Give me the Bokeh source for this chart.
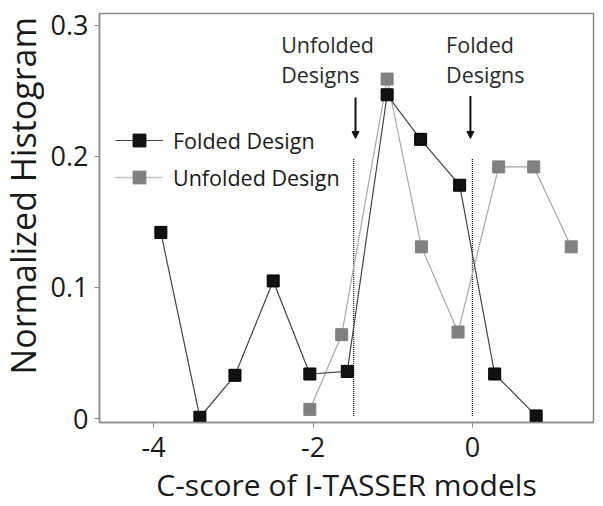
import math
from bokeh.plotting import figure
from bokeh.layouts import row
from bokeh.models import Range1d, FixedTicker, Legend, LegendItem, Arrow, NormalHead
from bokeh.core.properties import value
from bokeh.embed import file_html
from bokeh.resources import INLINE

FONT = "Open Sans"

# ---- data ----
folded_x = [-3.91, -3.42, -2.98, -2.50, -2.04, -1.57, -1.07, -0.65, -0.16, 0.28, 0.80]
folded_y = [0.142, 0.001, 0.033, 0.105, 0.034, 0.036, 0.247, 0.213, 0.178, 0.034, 0.002]

unfolded_x = [-2.04, -1.64, -1.07, -0.64, -0.18, 0.33, 0.77, 1.24]
unfolded_y = [0.007, 0.064, 0.259, 0.131, 0.066, 0.192, 0.192, 0.131]

x_ticks = [-4, -2, 0]
y_ticks = [0, 0.1, 0.2, 0.3]
x_tick_labels = ["-4", "-2", "0"]
y_tick_labels = ["0", "0.1", "0.2", "0.3"]

x_title = "C-score of I-TASSER models"
y_title = ["Normalized Histogram"]

# thresholds (dotted vertical lines)
threshold_x = [-1.49, 0.0]
threshold_y0 = [0.002, 0.002]
threshold_y1 = [0.198, 0.198]

# annotation texts
note_x = [-2.40, -2.40, -0.33, -0.33]
note_y = [0.2855, 0.2626, 0.2855, 0.2626]
note_text = ["Unfolded", "Designs", "Folded", "Designs"]

# arrows
arrow_x = [-1.467, -0.025]
arrow_y_start = [0.245, 0.246]
arrow_y_end = [0.2137, 0.2137]

# ---- narrow panel holding the y-axis title ----
yt = figure(width=44, height=506, output_backend="svg", toolbar_location=None,
            x_range=Range1d(0, 44), y_range=Range1d(0, 506),
            x_axis_location=None, y_axis_location=None, min_border=0)
yt.grid.visible = False
yt.outline_line_color = None
yt.background_fill_color = "white"
yt.border_fill_color = "white"
yt.text(x=[22], y=[280], text=y_title, angle=math.pi / 2, text_align="center",
        text_baseline="middle", text_font=value(FONT), text_font_size="34px",
        text_color="#1a1a1a")

# ---- main plot ----
p = figure(frame_width=494, frame_height=409, output_backend="svg", toolbar_location=None,
           x_range=Range1d(-4.68, 1.52), y_range=Range1d(-0.003, 0.309),
           min_border_left=55, min_border_top=13, min_border_right=9, min_border_bottom=83)
p.background_fill_color = "white"
p.border_fill_color = "white"
p.grid.visible = False
p.outline_line_color = "#8c8c8c"
p.outline_line_width = 1.5

for ax in (p.xaxis[0], p.yaxis[0]):
    ax.axis_line_color = "#8c8c8c"
    ax.axis_line_width = 1.5
    ax.major_tick_line_color = "#8c8c8c"
    ax.major_tick_in = 0
    ax.major_tick_out = 5
    ax.minor_tick_line_color = None
    ax.major_label_text_font = FONT
    ax.major_label_text_font_size = "27px"
    ax.major_label_text_color = "#1a1a1a"
    ax.axis_label_text_font = FONT
    ax.axis_label_text_font_style = "normal"
    ax.axis_label_text_color = "#1a1a1a"

p.xaxis.ticker = FixedTicker(ticks=x_ticks)
p.yaxis.ticker = FixedTicker(ticks=y_ticks)
p.xaxis.major_label_overrides = {t: l for t, l in zip(x_ticks, x_tick_labels)}
p.yaxis.major_label_overrides = {t: l for t, l in zip(y_ticks, y_tick_labels)}
p.xaxis.axis_label = x_title
p.xaxis.axis_label_text_font_size = "30px"
p.xaxis.major_label_standoff = 9
p.yaxis.major_label_standoff = 6
p.xaxis.axis_label_standoff = 4

# dotted threshold lines
p.segment(x0=threshold_x, y0=threshold_y0, x1=threshold_x, y1=threshold_y1,
          line_color="#111111", line_width=1.2, line_dash="1 1")

# arrows
for ax_, ys, ye in zip(arrow_x, arrow_y_start, arrow_y_end):
    p.add_layout(Arrow(x_start=ax_, y_start=ys, x_end=ax_, y_end=ye,
                       line_color="#111111", line_width=2,
                       end=NormalHead(size=7, fill_color="#111111", line_color="#111111")))

# annotation texts
p.text(x=note_x, y=note_y, text=note_text, text_font=value(FONT), text_font_size="21.5px",
       text_color="#2a2a2a", text_baseline="alphabetic", text_align="left")

# series
ul = p.line(unfolded_x, unfolded_y, line_color="#a8a8a8", line_width=1.2)
fl = p.line(folded_x, folded_y, line_color="#444444", line_width=1.2)
us = p.scatter(unfolded_x, unfolded_y, marker="square", size=12,
               fill_color="#808080", line_color="#808080")
fs = p.scatter(folded_x, folded_y, marker="square", size=12,
               fill_color="#111111", line_color="#000000")
proxy = p.line(x=[float("nan")], y=[float("nan")], line_color="#8a8a8a",
               line_width=1.3, line_dash="1 1")

legend = Legend(items=[LegendItem(label="Folded Design", renderers=[fl, fs]),
                       LegendItem(label="Unfolded Design", renderers=[proxy, us])],
                location=(16, 229), padding=0, margin=0, border_line_color=None,
                background_fill_alpha=0, glyph_width=48, glyph_height=32, spacing=5,
                label_standoff=10, label_text_font=FONT, label_text_font_size="21.5px",
                label_text_color="#1a1a1a")
p.add_layout(legend)

layout = row(yt, p, spacing=0)
open("out.html", "w").write(file_html(layout, INLINE))
